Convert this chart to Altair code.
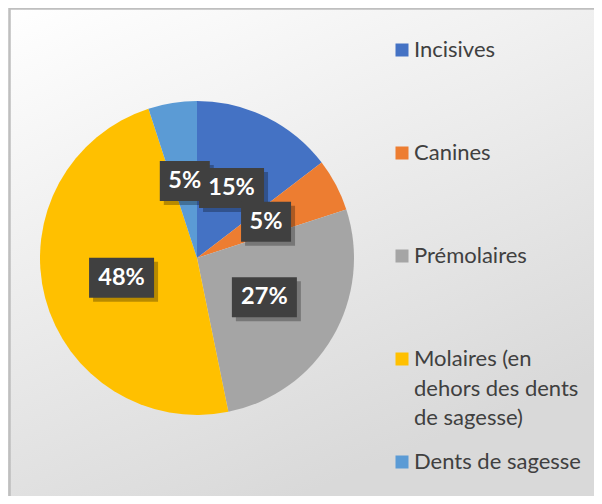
import altair as alt
import pandas as pd

# ---- data ----
categories = ["Incisives", "Canines", "Prémolaires",
              "Molaires (en dehors des dents de sagesse)", "Dents de sagesse"]
legend_lines = ["Incisives", "Canines", "Prémolaires",
                "Molaires (en\ndehors des dents\nde sagesse)", "Dents de sagesse"]
values = [14.6, 5.4, 26.8, 48.2, 5.0]
colors = ["#4472C4", "#ED7D31", "#A5A5A5", "#FFC000", "#5B9BD5"]

df = pd.DataFrame({
    "cat": categories,
    "leg": legend_lines,
    "value": values,
    "order": list(range(len(categories))),
})

# ---- layout ----
W, H = 586, 488
CX, CY = 189, 250      # pie centre inside the view
R = 157                # pie radius
LR = 78                # label radius
FONT = "Lato"

xs = alt.Scale(domain=[-CX, W - CX], nice=False, zero=False)
ys = alt.Scale(domain=[-(H - CY), CY], nice=False, zero=False)
color_scale = alt.Scale(domain=categories, range=colors)

base = alt.Chart(df)

bg = base.mark_rect(
    color=alt.LinearGradient(
        gradient="linear",
        stops=[alt.GradientStop(color="#ffffff", offset=0),
               alt.GradientStop(color="#d9d9d9", offset=1)],
        x1=0, x2=0.5, y1=0, y2=1,
    )
).encode(x=alt.value(0), x2=alt.value(W), y=alt.value(0), y2=alt.value(H))

top_rule = base.mark_rule(color="#bfbfbf", strokeWidth=1.5).encode(
    x=alt.value(1), x2=alt.value(W), y=alt.value(0.5))
left_rule = base.mark_rule(color="#bfbfbf", strokeWidth=1.5).encode(
    x=alt.value(1.5), y=alt.value(0), y2=alt.value(H))

pie = base.mark_arc(outerRadius=R).encode(
    theta=alt.Theta("value:Q", stack=True),
    color=alt.Color("cat:N", scale=color_scale, legend=None),
    order=alt.Order("order:Q"),
    x=alt.value(CX),
    y=alt.value(CY),
)

lab = base.transform_joinaggregate(
    total="sum(value)"
).transform_window(
    cum="sum(value)", sort=[alt.SortField("order")], frame=[None, 0]
).transform_calculate(
    mid="2*PI*(datum.cum - datum.value/2)/datum.total",
    label="format(datum.value/datum.total, '.0%')",
).transform_calculate(
    lx=f"{LR}*sin(datum.mid)",
    ly=f"{LR}*cos(datum.mid)",
    hw="10 + 7.5*length(datum.label)",
).transform_calculate(
    bx1="datum.lx - datum.hw",
    bx2="datum.lx + datum.hw",
    by1="datum.ly - 20",
    by2="datum.ly + 20",
)

shadow = lab.mark_rect(color="#000000", opacity=0.28,
                       xOffset=4, x2Offset=4, yOffset=4, y2Offset=4).encode(
    x=alt.X("bx1:Q", scale=xs, axis=None), x2="bx2:Q",
    y=alt.Y("by1:Q", scale=ys, axis=None), y2="by2:Q",
)
boxes = lab.mark_rect(color="#404040").encode(
    x=alt.X("bx1:Q", scale=xs, axis=None), x2="bx2:Q",
    y=alt.Y("by1:Q", scale=ys, axis=None), y2="by2:Q",
)
texts = lab.mark_text(font=FONT, fontSize=23.5, fontWeight="bold",
                      color="white", baseline="middle").encode(
    x=alt.X("lx:Q", scale=xs, axis=None),
    y=alt.Y("ly:Q", scale=ys, axis=None),
    text="label:N",
)

leg_y = alt.Y("cat:N", scale=alt.Scale(type="point", domain=categories,
                                        range=[42, 454], padding=0),
              axis=None)
leg_sq = base.mark_square(size=169, opacity=1).encode(
    x=alt.value(394), y=leg_y,
    color=alt.Color("cat:N", scale=color_scale, legend=None),
)
leg_txt = base.mark_text(font=FONT, fontSize=22, color="#404040",
                         align="left", baseline="middle",
                         lineBreak="\n", lineHeight=29.5).encode(
    x=alt.value(406), y=leg_y, text="leg:N",
)

chart = alt.layer(
    bg, top_rule, left_rule, pie, shadow, boxes, texts, leg_sq, leg_txt
).resolve_scale(
    y="independent", color="shared"
).properties(
    width=W, height=H, padding=0,
    autosize=alt.AutoSizeParams(type="none"),
).configure_view(stroke=None)

chart.save("out.html", embed_options={"renderer": "svg", "actions": False})
